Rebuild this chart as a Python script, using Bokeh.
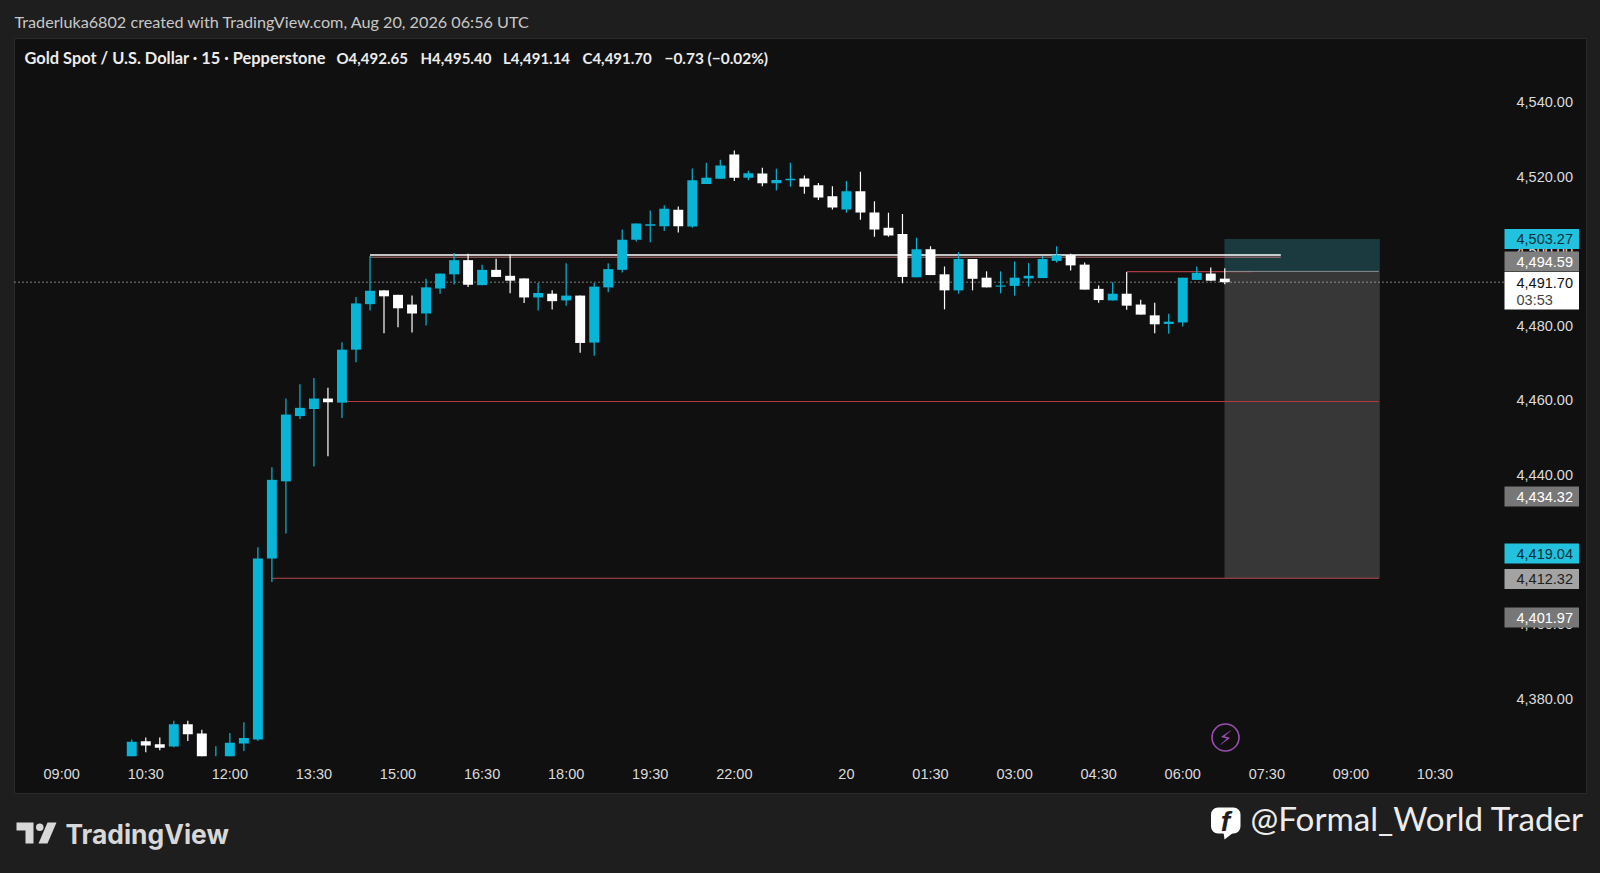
from bokeh.plotting import figure
from bokeh.models import (BoxAnnotation, Label, PolyAnnotation, FixedTicker,
                          NumeralTickFormatter, ColumnDataSource)
from bokeh.embed import file_html
from bokeh.resources import INLINE

# ---------- data ----------
first_index = 5
opens = [4364.6,4368.6,4367.8,4367.2,4373.2,4370.7,4364.6,4364.6,4368.0,4369.1,4417.6,4438.3,4455.8,4457.7,4460.5,4459.4,4473.6,4485.8,
         4489.5,4488.3,4485.7,4483.3,4490.0,4493.8,4497.6,4490.9,4495.0,4493.4,4492.7,4487.6,4488.6,4486.8,4488.1,4475.5,4490.3,4495.0,4503.1,
         4506.8,4506.7,4511.1,4506.6,4518.0,4519.4,4525.9,4519.7,4520.8,4518.2,4519.0,4519.5,4517.7,4514.7,4511.2,4516.1,4510.4,4506.3,4504.6,
         4493.0,4500.5,4493.8,4489.5,4497.9,4492.9,4490.5,4490.7,4492.7,4492.8,4497.4,4499.0,4496.4,4489.9,4486.8,4488.6,4485.7,4482.8,4480.5,4480.9,4492.3,4494.0,4492.65]
closes = [4368.5,4367.5,4366.9,4373.2,4370.5,4364.6,4364.6,4368.2,4369.5,4417.6,4438.7,4456.2,4458.0,4460.5,4459.5,4473.6,4486.0,4489.4,
          4487.9,4484.7,4483.3,4490.3,4494.0,4497.6,4491.0,4495.0,4493.1,4492.1,4487.6,4488.8,4486.6,4488.1,4475.4,4490.5,4495.2,4503.1,4507.4,
          4507.2,4511.4,4506.7,4519.0,4519.7,4523.0,4519.7,4520.9,4518.2,4519.1,4519.4,4517.3,4514.4,4511.7,4516.1,4510.4,4505.8,4504.2,4493.1,
          4500.5,4493.6,4489.5,4497.9,4492.6,4490.3,4490.8,4492.9,4493.4,4497.9,4498.9,4496.2,4489.7,4486.9,4488.6,4485.4,4483.0,4480.4,4481.1,4492.9,4494.2,4492.1,4491.70]
highs = [4369.1,4369.6,4369.6,4374.1,4374.1,4371.7,4367.3,4370.8,4373.7,4420.6,4442.1,4460.5,4464.3,4466.0,4463.4,4475.6,4487.7,4498.7,
         4489.6,4488.3,4488.1,4492.6,4494.0,4499.5,4499.3,4496.4,4498.0,4499.1,4492.7,4491.5,4489.5,4496.8,4488.1,4491.5,4496.8,4505.8,4507.4,
         4510.9,4512.3,4512.0,4522.2,4523.7,4524.5,4527.0,4521.6,4522.4,4522.1,4523.7,4520.3,4518.3,4517.4,4518.8,4521.3,4513.4,4510.3,4510.0,
         4503.6,4501.3,4495.9,4499.7,4497.9,4494.6,4494.6,4497.2,4496.8,4498.7,4501.3,4499.3,4497.0,4490.8,4491.7,4494.4,4487.0,4486.2,4483.2,4492.9,4495.9,4495.6,4495.40]
lows = [4364.6,4365.7,4366.2,4367.0,4368.7,4364.6,4364.6,4364.6,4366.0,4368.7,4411.3,4424.3,4455.0,4442.3,4445.0,4455.3,4470.2,4484.1,
        4478.0,4479.6,4478.2,4480.1,4488.6,4491.1,4490.4,4490.9,4493.1,4488.7,4486.1,4484.1,4484.4,4485.4,4472.8,4472.0,4489.0,4494.3,4502.6,
        4502.4,4505.4,4505.0,4506.3,4518.0,4519.4,4518.8,4519.0,4517.4,4516.3,4517.3,4515.4,4513.7,4511.2,4510.3,4508.4,4503.9,4503.9,4491.4,
        4493.0,4493.6,4484.4,4488.6,4489.5,4490.3,4488.7,4488.1,4490.5,4492.8,4497.0,4494.8,4489.7,4486.2,4486.8,4484.3,4483.0,4478.0,4477.9,4479.8,4492.3,4492.1,4491.14]

time_tick_index = [0, 6, 12, 18, 24, 30, 36, 42, 48, 56, 62, 68, 74, 80, 86, 92, 98]
time_tick_labels = ["09:00","10:30","12:00","13:30","15:00","16:30","18:00","19:30","22:00","20","01:30","03:00","04:30","06:00","07:30","09:00","10:30"]
price_ticks = [4380, 4400, 4420, 4440, 4460, 4480, 4500, 4520, 4540]

last_price = 4491.70
entry = 4494.59
target_top = 4503.27
stop_bottom = 4412.32
white_level = 4499.0
red_upper = 4498.4
red_mid = 4459.7
red_low = 4412.32
red_short = 4494.5

# ---------- page geometry ----------
FW, FH = 1600, 873
L, R, T, B = 14, 1586, 38, 793
def fx(px): return (px - 61.2) / 14.013
def fy(py): return 4540 - (py - 101.5) * 0.2681

OUTER = "#1e1e1e"; PANE = "#101010"; TEAL = "#08b5d6"; WHITE = "#ffffff"
FONT = "Liberation Sans"
HEAD = "Lato"

p = figure(width=FW, height=FH, output_backend="svg", toolbar_location=None,
           x_range=(fx(0), fx(FW)), y_range=(fy(FH), fy(0)),
           y_axis_location="right",
           min_border_left=0, min_border_right=0, min_border_top=0, min_border_bottom=0,
           background_fill_color=OUTER, border_fill_color=OUTER, outline_line_color=None)
p.grid.visible = False

# pane
p.quad(left=[fx(L)], right=[fx(R)], bottom=[fy(B)], top=[fy(T)], fill_color=PANE, line_color="#2b2b2b", line_width=1)

# axes, drawn inside the pane
p.xaxis.fixed_location = fy(756)
p.xaxis.ticker = FixedTicker(ticks=time_tick_index)
p.xaxis.major_label_overrides = {k: v for k, v in zip(time_tick_index, time_tick_labels)}
p.xaxis.axis_line_color = None
p.xaxis.major_tick_line_color = None
p.xaxis.minor_tick_line_color = None
p.xaxis.major_label_standoff = 3
p.xaxis.major_label_text_color = "#dcdcdc"
p.xaxis.major_label_text_font = FONT
p.xaxis.major_label_text_font_size = "14.5px"

p.yaxis.fixed_location = fx(1507)
p.yaxis.ticker = FixedTicker(ticks=price_ticks)
p.yaxis.formatter = NumeralTickFormatter(format="0,0.00")
p.yaxis.axis_line_color = None
p.yaxis.major_tick_line_color = None
p.yaxis.minor_tick_line_color = None
p.yaxis.major_label_standoff = 3
p.yaxis.major_label_text_color = "#dcdcdc"
p.yaxis.major_label_text_font = FONT
p.yaxis.major_label_text_font_size = "14.5px"

# position tool
p.quad(left=[fx(1224)], right=[fx(1379.3)], bottom=[entry], top=[target_top], fill_color="#1a3a40", line_color=None)
p.quad(left=[fx(1224)], right=[fx(1379.3)], bottom=[stop_bottom], top=[entry], fill_color="#373737", line_color=None)

# last price line
p.line([fx(L), fx(1504)], [last_price, last_price], line_color="#e6e6e6", line_width=1, line_dash="1 3")

# drawings
p.line([22, 87], [red_upper, red_upper], line_color="#c07878", line_width=1)
p.line([22, 87], [white_level, white_level], line_color="#ffffff", line_width=1.6)
p.line([20, 94], [red_mid, red_mid], line_color="#b5373f", line_width=1.2)
p.line([15, 94], [red_low, red_low], line_color="#b5474d", line_width=1.2)
p.line([76, 85], [red_short, red_short], line_color="#a83b42", line_width=1.2)
p.line([83, 94], [entry, entry], line_color="#8a8f90", line_width=1)

# candles
idx = list(range(first_index, first_index + len(opens)))
colors = [TEAL if c >= o else WHITE for o, c in zip(opens, closes)]
src = ColumnDataSource(dict(x=idx, o=opens, c=closes, h=highs, l=lows, color=colors,
                            top=[max(a, b) for a, b in zip(opens, closes)],
                            bot=[min(a, b) for a, b in zip(opens, closes)]))
p.segment("x", "h", "x", "l", source=src, line_color="color", line_width=1.2)
p.vbar(x="x", width=0.71, top="top", bottom="bot", source=src, fill_color="color", line_color=None)

# flash marker
p.scatter([fx(1225)], [fy(737)], marker="circle", size=27, fill_color=None, line_color="#9a4fb0", line_width=1.6)

def label(px, py, text, size, color=WHITE, font=FONT, style="normal", align="left"):
    p.add_layout(Label(x=fx(px), y=fy(py), text=text, text_font_size=f"{size}px", text_color=color,
                       text_font=font, text_font_style=style, text_align=align, text_baseline="middle"))

def tag(py_top, py_bot, fill):
    p.add_layout(BoxAnnotation(left=fx(1504), right=fx(1578.5), top=fy(py_top), bottom=fy(py_bot),
                               fill_color=fill, fill_alpha=1, line_color=None))

# price tags
tag_texts = ["4,503.27", "4,494.59", "4,434.32", "4,419.04", "4,412.32", "4,401.97"]
tag_fills = ["#22c1dd", "#7f7f7f", "#777777", "#22c1dd", "#a3a3a3", "#777777"]
tag_inks = ["#10303a", "#ffffff", "#ffffff", "#10303a", "#202020", "#ffffff"]
tag_centers = [238.5, 261, 496, 553, 578.5, 617]
for t, f, ink, c in zip(tag_texts, tag_fills, tag_inks, tag_centers):
    tag(c - 10, c + 10, f)
    label(1516, c, t, 14.5, ink)
tag(271.5, 309, "#ffffff")
label(1516, 282, "4,491.70", 14.5, "#111111")
label(1516, 299, "03:53", 14.5, "#444444")

# header
label(14, 20.5, "Traderluka6802 created with TradingView.com, Aug 20, 2026 06:56 UTC", 16.2, "#c8c8c8", font=HEAD)
TITLE_INK = "#ececec"
label(24, 57, "Gold Spot / U.S. Dollar · 15 · Pepperstone", 16.4, TITLE_INK, font=HEAD, style="bold")
for px, t in zip([336, 420, 502.5, 582], ["O4,492.65", "H4,495.40", "L4,491.14", "C4,491.70"]):
    label(px, 57, t, 15, TITLE_INK, font=HEAD, style="bold")
label(664, 57, "−0.73 (−0.02%)", 15.4, TITLE_INK, font=HEAD, style="bold")

# flash glyph
label(1225, 737, "⚡", 20, "#9a4fb0", font="DejaVu Sans", align="center")

# footer: TradingView wordmark
def poly(pts, color):
    p.add_layout(PolyAnnotation(xs=[fx(a) for a, b in pts], ys=[fy(b) for a, b in pts],
                                fill_color=color, fill_alpha=1, line_color=None))
MARK = "#d8d8d8"
poly([(16, 822), (33, 822), (33, 843), (25, 843), (25, 830), (16, 830)], MARK)
poly([(47, 822), (56, 822), (47, 843), (38, 843)], MARK)
p.add_layout(BoxAnnotation(left=fx(35.5), right=fx(43), top=fy(823), bottom=fy(830.5), fill_color=MARK, fill_alpha=1,
                           line_color=None, border_radius=4))
label(65, 833, "TradingView", 26.4, MARK, font="Inter", style="bold")

# footer: page credit
p.add_layout(BoxAnnotation(left=fx(1210.5), right=fx(1240), top=fy(807), bottom=fy(833), fill_color="#ffffff", fill_alpha=1,
                           line_color=None, border_radius=7))
poly([(1223, 832), (1233, 832), (1224, 839)], "#ffffff")
label(1225, 821, "f", 28, "#1e1e1e", font="Liberation Sans", style="bold italic", align="center")
label(1250, 817, "@Formal_World Trader", 33.2, "#ececec", font="Lato")

html = file_html(p, INLINE)
html = html.replace("<head>", "<head><style>html,body{background:#1e1e1e}</style>", 1)
open("out.html", "w").write(html)
